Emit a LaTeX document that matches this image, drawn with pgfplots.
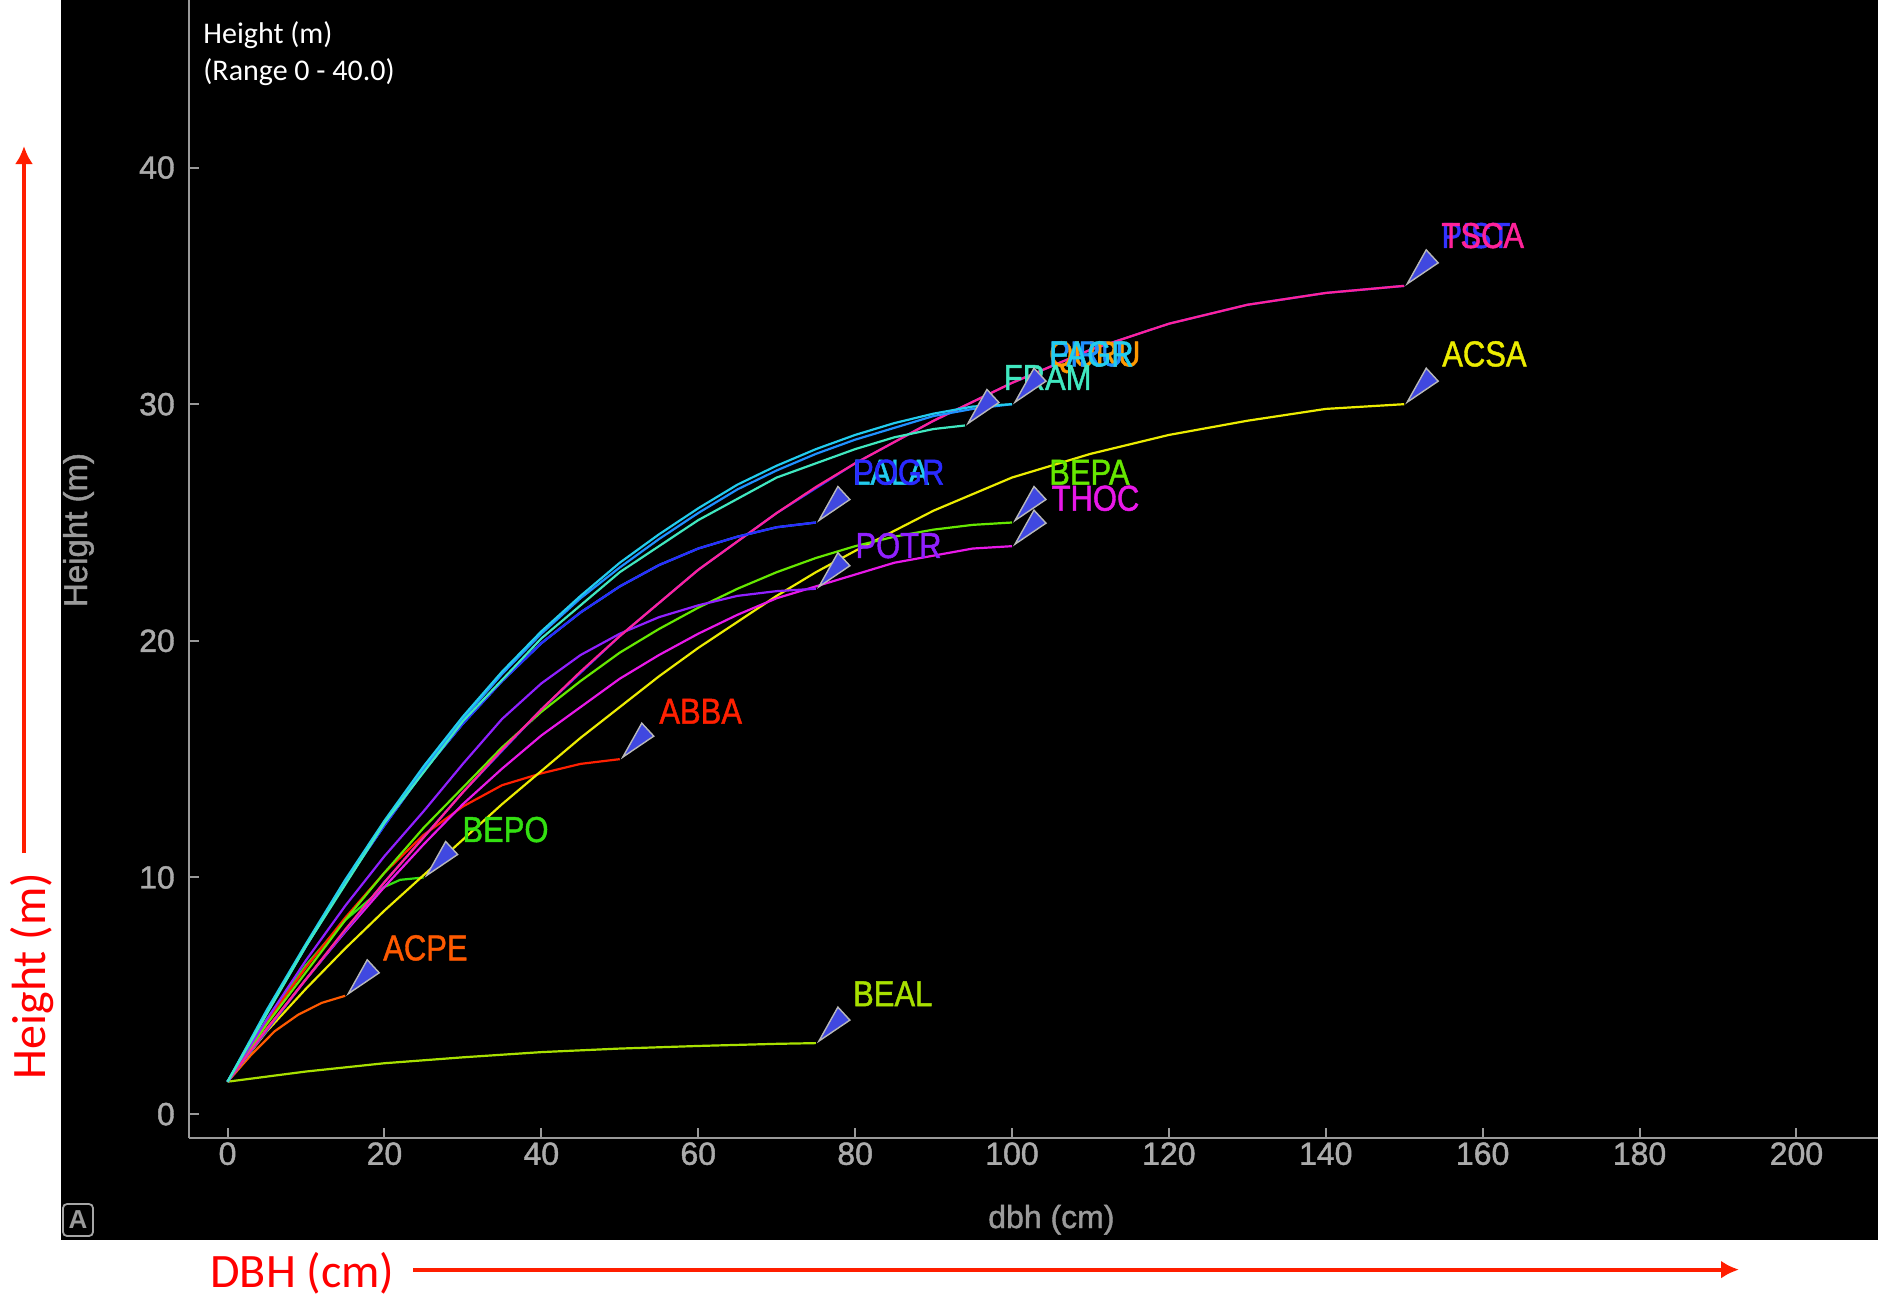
\documentclass[border=0pt]{standalone}
\usepackage{fontspec}
\setmainfont{Liberation Sans}
\newfontfamily\carlito{Carlito}
\newfontfamily\labfont[FakeBold=1.3]{Liberation Sans}
\usepackage{graphicx}
\usepackage{pgfplots}
\pgfplotsset{compat=1.18}
\usetikzlibrary{arrows.meta}

\definecolor{axgray}{HTML}{9A9A9A}
\definecolor{tkgray}{HTML}{ABABAB}
\definecolor{annred}{RGB}{255,30,0}
\definecolor{cTSCA}{HTML}{FF2299}
\definecolor{cPIST}{HTML}{3333FF}
\definecolor{cACSA}{HTML}{ECEC00}
\definecolor{cFAGR}{HTML}{22CCEE}
\definecolor{cPIRU}{HTML}{2090FF}
\definecolor{cQURU}{HTML}{FF9900}
\definecolor{cFRAM}{HTML}{40E8C0}
\definecolor{cLALA}{HTML}{22CCEE}
\definecolor{cPOGR}{HTML}{2A2AFF}
\definecolor{cBEPA}{HTML}{66E800}
\definecolor{cTHOC}{HTML}{E818E8}
\definecolor{cPOTR}{HTML}{9020FF}
\definecolor{cABBA}{HTML}{FF2000}
\definecolor{cBEPO}{HTML}{33E011}
\definecolor{cACPE}{HTML}{FF5A00}
\definecolor{cBEAL}{HTML}{A8E000}
\definecolor{mkblue}{HTML}{4048E0}

\pgfdeclareplotmark{ptr}{%
  \pgfpathmoveto{\pgfpoint{1.5pt}{1pt}}%
  \pgfpathlineto{\pgfpoint{11pt}{18pt}}%
  \pgfpathlineto{\pgfpoint{17pt}{11.5pt}}%
  \pgfpathclose
  \pgfusepathqfillstroke}

\newcommand{\lab}[4]{\node[anchor=base west, inner sep=0pt, text=#3, font=\labfont\fontsize{18}{20}\selectfont] at (axis cs:#1,#2) {\scalebox{0.86}[1]{#4}};}

\begin{document}
\begin{tikzpicture}
\useasboundingbox (0,0) rectangle (939pt,-648pt);
\fill[black] (30.5pt,0) rectangle (939pt,-620pt);
\begin{axis}[
  at={(94.6pt,-569pt)}, anchor=south west,
  scale only axis, width=844.4pt, height=569pt,
  xmin=-4.89, xmax=210.4, ymin=-1.01, ymax=47.08,
  axis lines*=left,
  axis line style={-, draw=axgray, line width=1.2pt},
  tick align=inside, major tick length=5pt,
  tick style={draw=axgray, line width=1pt},
  xtick={0,20,...,200}, ytick={0,10,20,30,40},
  /pgf/number format/assume math mode=true,
  ticklabel style={font=\labfont\fontsize{16}{18}\selectfont, text=tkgray},
  xticklabel style={anchor=north, inner sep=0pt, yshift=-2pt},
  yticklabel style={anchor=east, inner sep=0pt, xshift=-7pt},
  clip=false,
  every axis plot/.append style={line width=1.1pt},
]
% BEAL
\addplot[cBEAL] coordinates {(0,1.37) (10,1.8) (20,2.15) (30,2.4) (40,2.62) (50,2.77) (60,2.88) (70,2.97) (75,3.0)};
% ACPE
\addplot[cACPE] coordinates {(0,1.37) (3,2.5) (6,3.5) (9,4.2) (12,4.7) (15,5.0)};
% BEPO
\addplot[cBEPO] coordinates {(0,1.37) (5,4.0) (10,6.3) (15,8.2) (20,9.6) (22,9.9) (25,10.0)};
% ABBA
\addplot[cABBA] coordinates {(0,1.37) (5,3.9) (10,6.2) (15,8.3) (20,10.2) (25,11.8) (30,13.0) (35,13.9) (40,14.4) (45,14.8) (50,15.0)};
% ACSA
\addplot[cACSA] coordinates {(0,1.37) (5,3.5) (10,5.3) (15,7.0) (20,8.6) (25,10.1) (30,11.6) (35,13.1) (40,14.5) (45,15.9) (50,17.2) (55,18.5) (60,19.7) (65,20.8) (70,21.9) (75,22.9) (80,23.8) (90,25.5) (100,26.9) (110,27.9) (120,28.7) (130,29.3) (140,29.8) (150,30.0)};
% THOC
\addplot[cTHOC] coordinates {(0,1.37) (5,3.6) (10,5.7) (15,7.7) (20,9.6) (25,11.4) (30,13.1) (35,14.6) (40,16.0) (45,17.2) (50,18.4) (55,19.4) (60,20.3) (65,21.1) (70,21.8) (75,22.3) (80,22.8) (85,23.3) (90,23.6) (95,23.9) (100,24.0)};
% BEPA
\addplot[cBEPA] coordinates {(0,1.37) (5,3.8) (10,6.0) (15,8.2) (20,10.2) (25,12.1) (30,13.8) (35,15.5) (40,17.0) (45,18.3) (50,19.5) (55,20.5) (60,21.4) (65,22.2) (70,22.9) (75,23.5) (80,24.0) (85,24.4) (90,24.7) (95,24.9) (100,25.0)};
% POTR
\addplot[cPOTR] coordinates {(0,1.37) (5,4.0) (10,6.5) (15,8.8) (20,10.9) (25,12.8) (30,14.8) (35,16.7) (40,18.2) (45,19.4) (50,20.3) (55,21.0) (60,21.5) (65,21.9) (70,22.1) (75,22.2)};
% TSCA / PIST
\addplot[cPIST] coordinates {(0,1.37) (10,5.7) (20,9.8) (30,13.6) (40,17.1) (50,20.2) (60,23.0) (70,25.4) (80,27.5) (90,29.3) (100,30.9) (110,32.3) (120,33.4) (130,34.2) (140,34.7) (150,35.0)};
\addplot[cTSCA] coordinates {(0,1.37) (5,3.6) (10,5.7) (15,7.8) (20,9.8) (25,11.7) (30,13.6) (35,15.4) (40,17.1) (45,18.7) (50,20.2) (55,21.6) (60,23.0) (65,24.2) (70,25.4) (75,26.5) (80,27.5) (90,29.3) (100,30.9) (110,32.3) (120,33.4) (130,34.2) (140,34.7) (150,35.0)};
% LALA / POGR
\addplot[cLALA] coordinates {(0,1.37) (5,4.3) (10,7.1) (15,9.8) (20,12.2) (25,14.5) (30,16.5) (35,18.3) (40,19.9) (45,21.2) (50,22.3) (55,23.2) (60,23.9) (65,24.4) (70,24.8) (75,25.0)};
\addplot[cPOGR] coordinates {(0,1.37) (5,4.3) (10,7.1) (15,9.8) (20,12.2) (25,14.5) (30,16.5) (35,18.3) (40,19.9) (45,21.2) (50,22.3) (55,23.2) (60,23.9) (65,24.4) (70,24.8) (75,25.0)};
% PIRU
\addplot[cPIRU] coordinates {(0,1.37) (5,4.3) (10,7.1) (15,9.8) (20,12.3) (25,14.6) (30,16.7) (35,18.6) (40,20.3) (45,21.8) (50,23.1) (55,24.3) (60,25.4) (65,26.4) (70,27.2) (75,27.9) (80,28.5) (85,29.0) (90,29.5) (95,29.8) (100,30.0)};
% FAGR
\addplot[cFAGR] coordinates {(0,1.37) (5,4.4) (10,7.2) (15,9.9) (20,12.4) (25,14.7) (30,16.8) (35,18.7) (40,20.4) (45,21.9) (50,23.3) (55,24.5) (60,25.6) (65,26.6) (70,27.4) (75,28.1) (80,28.7) (85,29.2) (90,29.6) (95,29.9) (100,30.0)};
% FRAM
\addplot[cFRAM] coordinates {(0,1.37) (10,7.1) (20,12.3) (30,16.6) (40,20.1) (50,22.9) (60,25.1) (70,26.9) (80,28.1) (85,28.6) (90,28.95) (94,29.1)};
% end-point pointers
\addplot[only marks, mark=ptr, mark options={fill=mkblue, draw=gray!55, line width=0.7pt}] coordinates {(15,5.0) (25,10.0) (50,15.0) (75,3.0) (75,22.2) (75,25.0) (94,29.1) (100,30.0) (100,25.0) (100,24.0) (150,35.0) (150,30.0)};
% labels
\lab{154.7}{36.6}{cPIST}{PIST}
\lab{154.7}{36.6}{cTSCA}{TSCA}
\lab{154.8}{31.6}{cACSA}{ACSA}
\lab{104.7}{31.6}{cQURU}{QURU}
\lab{104.7}{31.6}{cPIRU}{PIRU}
\lab{104.7}{31.6}{cFAGR}{FAGR}
\lab{98.9}{30.6}{cFRAM}{FRAM}
\lab{79.7}{26.6}{cLALA}{LALA}
\lab{79.7}{26.6}{cPOGR}{POGR}
\lab{104.7}{26.6}{cBEPA}{BEPA}
\lab{105}{25.5}{cTHOC}{THOC}
\lab{80}{23.5}{cPOTR}{POTR}
\lab{55}{16.5}{cABBA}{ABBA}
\lab{29.9}{11.5}{cBEPO}{BEPO}
\lab{19.8}{6.5}{cACPE}{ACPE}
\lab{79.7}{4.56}{cBEAL}{BEAL}
\end{axis}
% gray axis labels
\node[rotate=90, anchor=base, inner sep=0pt, text=axgray, font=\labfont\fontsize{16.5}{18}\selectfont] at (43.5pt,-265pt) {Height (m)};
\node[anchor=base, inner sep=0pt, text=axgray, font=\labfont\fontsize{16}{18}\selectfont] at (525.7pt,-614pt) {dbh (cm)};
% top-left caption
\node[anchor=base west, inner sep=0pt, text=white, font=\carlito\fontsize{15}{18}\selectfont] at (101.5pt,-21.7pt) {Height (m)};
\node[anchor=base west, inner sep=0pt, text=white, font=\carlito\fontsize{15}{18}\selectfont] at (101.5pt,-40pt) {(Range 0 - 40.0)};
% A box
\draw[gray!70, line width=0.9pt, rounded corners=2pt] (31.5pt,-602pt) rectangle (46.5pt,-618pt);
\node[text=gray!80, font=\bfseries\fontsize{13}{14}\selectfont, inner sep=0pt] at (39pt,-610pt) {A};
% red annotations
\draw[annred, line width=2pt, -{Latex[length=9pt,width=9pt]}] (12pt,-426.5pt) -- (12pt,-73pt);
\node[rotate=90, anchor=base, inner sep=0pt, text=red, font=\carlito\fontsize{24}{28}\selectfont] at (22.5pt,-488pt) {Height (m)};
\draw[annred, line width=2pt, -{Latex[length=9pt,width=9pt]}] (206.6pt,-634.8pt) -- (869.5pt,-634.8pt);
\node[anchor=base west, inner sep=0pt, text=red, font=\carlito\fontsize{24}{28}\selectfont] at (105pt,-643.5pt) {DBH (cm)};
\end{tikzpicture}
\end{document}
